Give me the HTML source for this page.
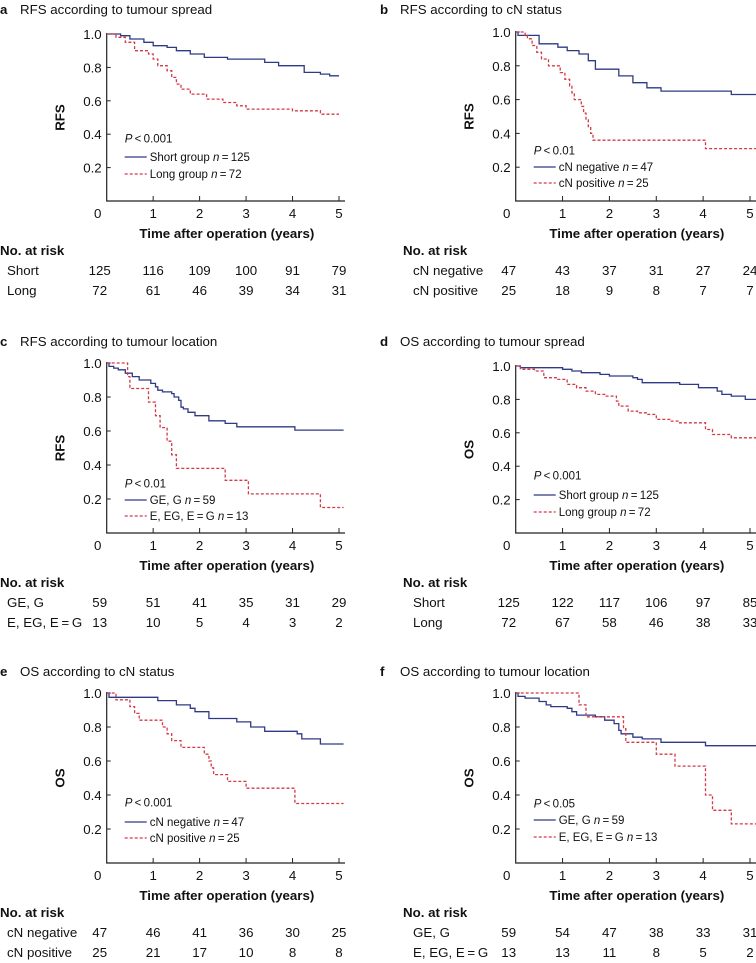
<!DOCTYPE html>
<html><head><meta charset="utf-8">
<style>
html,body{margin:0;padding:0;background:#fff;}
svg{display:block;font-family:"Liberation Sans",Arial,sans-serif;}
</style></head>
<body>
<svg id="fig" width="756" height="963" viewBox="0 0 756 963" xmlns="http://www.w3.org/2000/svg"></svg>
<script>
// ---- data (time in years, survival proportion) ----
const years = [0,1,2,3,4,5];
const yTicks = [0.2,0.4,0.6,0.8,1.0];
const yTickLabels = ["0.2","0.4","0.6","0.8","1.0"];

const aBlueT = [0,0.3,0.5,0.8,1.0,1.3,1.5,1.8,2.1,2.6,3.4,3.7,4.25,4.6,4.8];
const aBlueS = [1.0,0.99,0.97,0.95,0.93,0.92,0.90,0.88,0.86,0.85,0.83,0.81,0.77,0.76,0.75];
const aRedT = [0,0.2,0.4,0.6,0.9,1.0,1.1,1.3,1.4,1.5,1.6,1.8,2.15,2.5,2.8,3.0,4.0,4.6];
const aRedS = [1.0,0.98,0.95,0.90,0.88,0.85,0.81,0.78,0.74,0.70,0.67,0.64,0.61,0.59,0.57,0.55,0.54,0.52];
const aRiskBlue = [125,116,109,100,91,79];
const aRiskRed = [72,61,46,39,34,31];

const bBlueT = [0,0.05,0.5,0.9,1.1,1.35,1.55,1.7,2.2,2.5,2.8,3.1,4.6];
const bBlueS = [1.0,0.98,0.93,0.91,0.89,0.87,0.83,0.78,0.74,0.70,0.67,0.65,0.63];
const bRedT = [0,0.2,0.25,0.35,0.45,0.55,0.7,0.95,1.05,1.15,1.2,1.25,1.4,1.45,1.5,1.55,1.6,1.65,4.05];
const bRedS = [1.0,0.98,0.96,0.92,0.88,0.84,0.80,0.76,0.72,0.68,0.64,0.60,0.56,0.52,0.48,0.44,0.40,0.36,0.31];
const bRiskBlue = [47,43,37,31,27,24];
const bRiskRed = [25,18,9,8,7,7];

const cBlueT = [0,0.05,0.15,0.25,0.4,0.55,0.7,0.95,1.05,1.1,1.2,1.4,1.45,1.55,1.6,1.65,1.75,1.9,2.2,2.55,2.8,4.05];
const cBlueS = [1.0,0.98,0.97,0.96,0.94,0.92,0.90,0.88,0.86,0.84,0.83,0.82,0.80,0.78,0.74,0.73,0.71,0.69,0.66,0.645,0.625,0.605];
const cRedT = [0,0.45,0.5,0.9,1.05,1.15,1.3,1.4,1.5,2.55,3.05,4.6];
const cRedS = [1.0,0.92,0.85,0.77,0.69,0.62,0.54,0.46,0.38,0.31,0.23,0.15];
const cRiskBlue = [59,51,41,35,31,29];
const cRiskRed = [13,10,5,4,3,2];

const dBlueT = [0,0.1,1.0,1.2,1.4,1.8,2.0,2.5,2.6,2.7,3.5,3.9,4.3,4.4,4.6,4.9];
const dBlueS = [1.0,0.99,0.98,0.97,0.96,0.95,0.94,0.93,0.92,0.90,0.89,0.87,0.85,0.83,0.82,0.80];
const dRedT = [0,0.1,0.4,0.6,0.9,1.1,1.3,1.5,1.7,1.9,2.15,2.2,2.4,2.6,2.8,3.0,3.3,3.5,4.05,4.2,4.6];
const dRedS = [1.0,0.98,0.97,0.93,0.92,0.89,0.87,0.85,0.83,0.82,0.79,0.76,0.73,0.72,0.71,0.68,0.67,0.66,0.62,0.59,0.57];
const dRiskBlue = [125,122,117,106,97,85];
const dRiskRed = [72,67,58,46,38,33];

const eBlueT = [0,0.05,1.1,1.5,1.8,1.9,2.2,2.8,3.1,3.4,4.1,4.2,4.6];
const eBlueS = [1.0,0.975,0.955,0.93,0.91,0.89,0.85,0.83,0.80,0.775,0.76,0.73,0.70];
const eRedT = [0,0.2,0.5,0.6,0.7,1.2,1.3,1.4,1.6,2.1,2.2,2.25,2.3,2.6,3.0,4.05];
const eRedS = [1.0,0.96,0.92,0.88,0.84,0.80,0.76,0.72,0.68,0.64,0.60,0.56,0.52,0.48,0.44,0.35];
const eRiskBlue = [47,46,41,36,30,25];
const eRiskRed = [25,21,17,10,8,8];

const fBlueT = [0,0.05,0.2,0.5,0.65,0.75,1.1,1.2,1.3,1.7,1.9,2.1,2.2,2.25,2.5,2.7,3.1,4.05];
const fBlueS = [1.0,0.98,0.97,0.95,0.93,0.92,0.91,0.89,0.87,0.86,0.84,0.82,0.78,0.76,0.74,0.73,0.71,0.69];
const fRedT = [0,1.35,1.5,2.3,2.35,3.0,3.4,4.05,4.2,4.6];
const fRedS = [1.0,0.93,0.86,0.79,0.71,0.64,0.57,0.40,0.31,0.23];
const fRiskBlue = [59,54,47,38,33,31];
const fRiskRed = [13,13,11,8,5,2];

// ---- layout (not data) ----
const NS = "http://www.w3.org/2000/svg";
const svg = document.getElementById('fig');
const BLUE = "#2f3a86", RED = "#d33a45";
const FS = 13.3, LFS = 11.5;
const EQ = "E, EG, E\u2009=\u2009G";
const panels = [
 {id:'a',title:'RFS according to tumour spread',yl:'RFS',ox:0,x0:106.7,x5:339,axEnd:345,tY:9,y1:34,y0:201,tmax:5.0,
  bt:aBlueT,bs:aBlueS,rt:aRedT,rs:aRedS,rb:aRiskBlue,rr:aRiskRed,p:'0.001',leg:[-63,-44,-27],
  lb:['Short group','125'],lr:['Long group','72'],riskL:['Short','Long']},
 {id:'b',title:'RFS according to cN status',yl:'RFS',ox:380,x0:515.7,x5:750,axEnd:756,tY:9,y1:32,y0:201,tmax:5.15,
  bt:bBlueT,bs:bBlueS,rt:bRedT,rs:bRedS,rb:bRiskBlue,rr:bRiskRed,p:'0.01',leg:[-51,-34,-18],
  lb:['cN negative','47'],lr:['cN positive','25'],riskL:['cN negative','cN positive']},
 {id:'c',title:'RFS according to tumour location',yl:'RFS',ox:0,x0:106.7,x5:339,axEnd:345,tY:341,y1:363,y0:533,tmax:5.1,
  bt:cBlueT,bs:cBlueS,rt:cRedT,rs:cRedS,rb:cRiskBlue,rr:cRiskRed,p:'0.01',leg:[-50,-33,-17],
  lb:['GE, G','59'],lr:[EQ,'13'],riskL:['GE, G',EQ]},
 {id:'d',title:'OS according to tumour spread',yl:'OS',ox:380,x0:515.7,x5:750,axEnd:756,tY:341,y1:366,y0:533,tmax:5.15,
  bt:dBlueT,bs:dBlueS,rt:dRedT,rs:dRedS,rb:dRiskBlue,rr:dRiskRed,p:'0.001',leg:[-58,-38,-21],
  lb:['Short group','125'],lr:['Long group','72'],riskL:['Short','Long']},
 {id:'e',title:'OS according to cN status',yl:'OS',ox:0,x0:106.7,x5:339,axEnd:345,tY:671,y1:693,y0:863,tmax:5.1,
  bt:eBlueT,bs:eBlueS,rt:eRedT,rs:eRedS,rb:eRiskBlue,rr:eRiskRed,p:'0.001',leg:[-61,-41,-25],
  lb:['cN negative','47'],lr:['cN positive','25'],riskL:['cN negative','cN positive']},
 {id:'f',title:'OS according to tumour location',yl:'OS',ox:380,x0:515.7,x5:750,axEnd:756,tY:671,y1:693,y0:863,tmax:5.15,
  bt:fBlueT,bs:fBlueS,rt:fRedT,rs:fRedS,rb:fRiskBlue,rr:fRiskRed,p:'0.05',leg:[-60,-43,-26],
  lb:['GE, G','59'],lr:[EQ,'13'],riskL:['GE, G',EQ]}
];

function mk(tag, attrs, parent, text){
  const el = document.createElementNS(NS, tag);
  for (const k in attrs) el.setAttribute(k, attrs[k]);
  if (text !== undefined) el.textContent = text;
  (parent||svg).appendChild(el);
  return el;
}

function stepPath(T,S,tmax,xs,ys){
  let d = 'M'+xs(T[0]).toFixed(1)+','+ys(S[0]).toFixed(1);
  for (let i=1;i<T.length;i++){
    d += ' H'+xs(T[i]).toFixed(1)+' V'+ys(S[i]).toFixed(1);
  }
  d += ' H'+xs(tmax).toFixed(1);
  return d;
}

panels.forEach(P=>{
  const g = mk('g',{});
  
  
  const xs = t => P.x0 + (P.x5-P.x0)*t/5;
  const ys = s => P.y0 - (P.y0-P.y1)*s;

  const tt = mk('text',{x:P.ox, y:P.tY+5, 'font-size':FS, fill:'#111'}, g);
  
  
  mk('tspan',{'font-weight':'bold'}, tt, P.id);
  mk('tspan',{x:P.ox+20}, tt, P.title);

  const ax = mk('path',{d:'M'+P.x0+','+(P.y1-1)+' V'+P.y0+' H'+P.axEnd, stroke:'#222','stroke-width':1.2, fill:'none'}, g);
  
  

  yTicks.forEach((v,i)=>{
    const y = ys(v);
    mk('line',{x1:P.x0, x2:P.x0+4, y1:y, y2:y, stroke:'#222','stroke-width':1}, g);
    const lt = mk('text',{x:P.x0-5, y:y+5, 'font-size':FS,'text-anchor':'end', fill:'#111'}, g, yTickLabels[i]);
    
    
  });
  years.forEach(yr=>{
    const x = xs(yr);
    if (yr>0) mk('line',{x1:x,x2:x,y1:P.y0,y2:P.y0-5,stroke:'#222','stroke-width':1}, g);
    const lx = yr===0 ? P.x0-9 : x;
    const lt = mk('text',{x:lx, y:P.y0+17, 'font-size':FS,'text-anchor':'middle', fill:'#111'}, g, String(yr));
    
    
  });
  const xt = mk('text',{x:(P.x0+P.x5)/2+4, y:P.y0+37,'font-size':FS,'font-weight':'bold','text-anchor':'middle',fill:'#111'}, g, 'Time after operation (years)');
  
  
  const yc = P.x0-42, ym = (P.y1+P.y0)/2;
  const yt = mk('text',{x:yc, y:ym,'font-size':FS,'font-weight':'bold','text-anchor':'middle',transform:'rotate(-90 '+yc+' '+ym+')',fill:'#111'}, g, P.yl);
  
  

  const blue = mk('path',{d:stepPath(P.bt,P.bs,P.tmax,xs,ys),stroke:BLUE,'stroke-width':1.3,fill:'none'}, g);
  
  
  const red = mk('path',{d:stepPath(P.rt,P.rs,P.tmax,xs,ys),stroke:RED,'stroke-width':1.3,'stroke-dasharray':'3,2',fill:'none'}, g);
  
  

  const lx = P.x0+18;
  const pt = mk('text',{x:lx, y:P.y0+P.leg[0]+4.5,'font-size':LFS,fill:'#111'}, g);
  
  
  mk('tspan',{'font-style':'italic'}, pt, 'P');
  mk('tspan',{}, pt, '\u2009<\u2009'+P.p);
  [[P.lb,BLUE,null,P.leg[1]],[P.lr,RED,'3,2',P.leg[2]]].forEach(([lab,col,dash,dy])=>{
    const y = P.y0+dy;
    const ln = mk('line',{x1:lx,x2:lx+22,y1:y,y2:y,stroke:col,'stroke-width':1.3}, g);
    if (dash) ln.setAttribute('stroke-dasharray',dash);
    
    
    const t = mk('text',{x:lx+25,y:y+4,'font-size':LFS,fill:'#111'}, g);
    
    
    mk('tspan',{}, t, lab[0]+' ');
    mk('tspan',{'font-style':'italic'}, t, 'n');
    mk('tspan',{}, t, '\u2009=\u2009'+lab[1]);
  });

  const nr = mk('text',{x:P.ox + (P.ox?23:0), y:P.y0+54,'font-size':FS,'font-weight':'bold',fill:'#111'}, g, 'No. at risk');
  
  
  [[P.riskL[0],P.rb,69],[P.riskL[1],P.rr,89]].forEach(([lab,vals,dy])=>{
    const rl = mk('text',{x:P.ox + (P.ox?33:7), y:P.y0+dy+5,'font-size':FS,fill:'#111'}, g, lab);
    
    
    vals.forEach((v,i)=>{
      const x = i===0 ? P.x0-7 : xs(years[i]);
      const nt = mk('text',{x:x, y:P.y0+dy+5,'font-size':FS,'text-anchor':'middle',fill:'#111'}, g, String(v));
      
      
    });
  });
});
</script>
</body></html>
